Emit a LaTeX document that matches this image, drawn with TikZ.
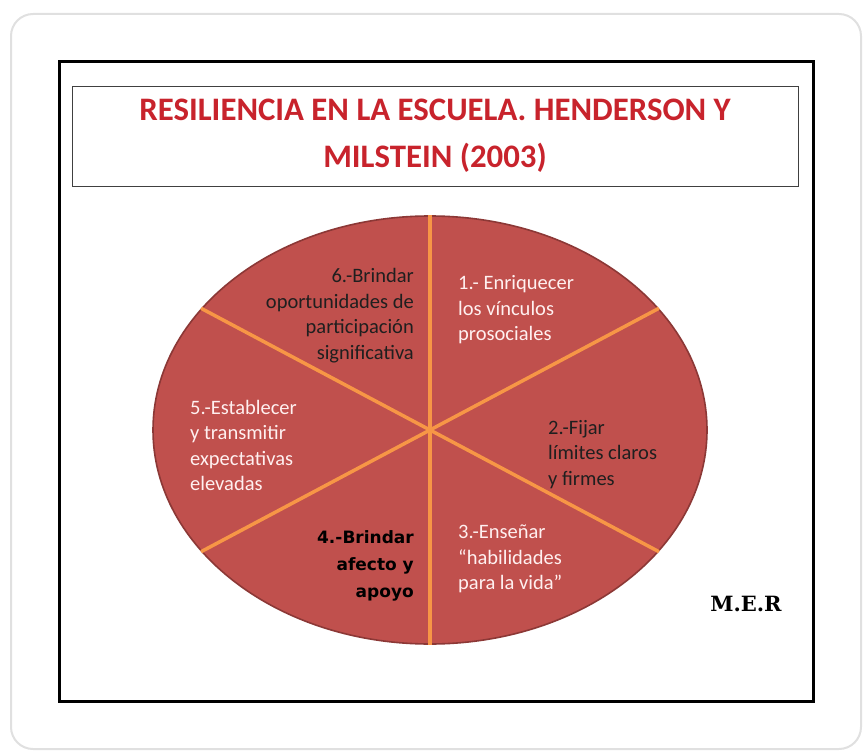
\documentclass[tikz,border=0pt]{standalone}
\usepackage{fontspec}
\setmainfont{Carlito}
\newfontfamily\merfont{DejaVu Serif}
\newfontfamily\boldsegfont{DejaVu Sans}
\usetikzlibrary{shapes.geometric}
\definecolor{wheelred}{HTML}{C0504D}
\definecolor{wheeledge}{HTML}{8C3836}
\definecolor{spokeorange}{HTML}{F79646}
\definecolor{titlered}{HTML}{C8232C}

\begin{document}
\begin{tikzpicture}%
        [x=1pt, y=-1pt,
        card/.style={draw=black!12, line width=2pt, fill=white, rounded corners=22pt},
        frame/.style={draw=black, line width=3pt},
        titlebox/.style={draw=black!75, line width=0.9pt},
        wheel/.style={ellipse, fill=wheelred, draw=wheeledge, line width=1.6pt, minimum width=554pt, minimum height=428pt, inner sep=0pt},
        spoke/.style={color=spokeorange, line width=3.5pt},
        segtext/.style={inner sep=0pt, font=\fontsize{20.5}{25.5}\selectfont},
        light/.style={segtext, text=white!94!red},
        dark/.style={segtext, text=black!88}]
    %
    \useasboundingbox (0,0) rectangle (866,751);
    %
    %% Drawing the card and the frames
    \draw[card] (11,14) rectangle (861,749);
    \draw[frame] (59.5,62) rectangle (813.5,701.5);
    \draw[titlebox] (72,86) rectangle (798,186);
    %%
    %% Title
    \node[align=center, text=titlered, font=\bfseries\fontsize{32.8}{47}\selectfont] (title) at (435,136)
        {RESILIENCIA EN LA ESCUELA. HENDERSON Y\\MILSTEIN (2003)};
    %%
    %% The wheel and its spokes
    \node[wheel] (wheel) at (430,430) {};
    \draw[spoke] (wheel.north) -- (wheel.south);
    \draw[spoke] (wheel.28) -- (wheel.208);
    \draw[spoke] (wheel.152) -- (wheel.-28);
    %%
    %% Texts of the six segments
    \node[light, anchor=north west, align=left] (seg1) at (458,275.5)
        {1.- Enriquecer\\los vínculos\\prosociales};
    \node[dark, anchor=north west, align=left] (seg2) at (548,420)
        {2.-Fijar\\límites claros\\y firmes};
    \node[light, anchor=north west, align=left] (seg3) at (458,525)
        {3.-Enseñar\\“habilidades\\para la vida”};
    \node[segtext, anchor=north east, align=right, text=black, font=\boldsegfont\bfseries\fontsize{17}{27}\selectfont] (seg4) at (414,530)
        {4.-Brindar\\afecto y\\apoyo};
    \node[light, anchor=north west, align=left] (seg5) at (190,400)
        {5.-Establecer\\y transmitir\\expectativas\\elevadas};
    \node[dark, anchor=north east, align=right] (seg6) at (414,268.5)
        {6.-Brindar\\oportunidades de\\participación\\significativa};
    %%
    %% Signature
    \node[font=\merfont\bfseries\fontsize{21}{23}\selectfont] (mer) at (746,604) {M.E.R};
    %%
    \end{tikzpicture}
\end{document}
